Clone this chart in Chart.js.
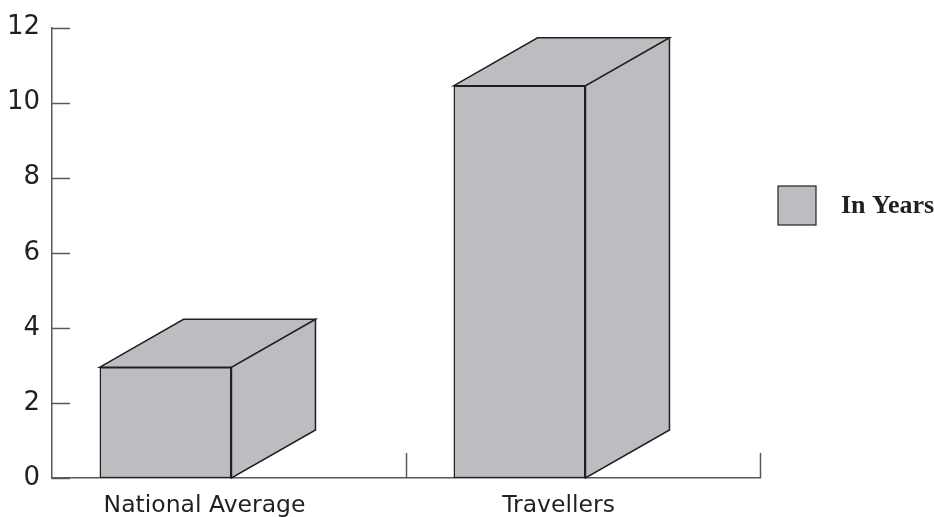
<!DOCTYPE html>
<html>
<head>
<meta charset="utf-8">
<script src="https://cdn.jsdelivr.net/npm/chart.js@4"></script>
<style>
  html, body { margin: 0; padding: 0; background: #fff; }
  #wrap { width: 934px; height: 517px; position: relative; }
</style>
</head>
<body>
<div id="wrap"><canvas id="chart"></canvas></div>
<script>
const categories = ["National Average", "Travellers"];
const yearsValues = [2.95, 10.45];
const seriesLabel = "In Years";
const yMin = 0;
const yMax = 12;
const yStep = 2;

const fill = "#bcbdc0";
const edge = "#231f20";
const axisColor = "#58595b";
const depthX = 84;
const depthY = 48;

// draws the top and side faces of each bar, plus inward ticks and the legend
const threeD = {
  id: "threeD",
  afterDatasetsDraw(chart) {
    const ctx = chart.ctx;
    const area = chart.chartArea;
    const yScale = chart.scales.y;
    const xScale = chart.scales.x;

    ctx.save();
    ctx.strokeStyle = axisColor;
    ctx.lineWidth = 1.5;
    yScale.ticks.forEach((t) => {
      const py = Math.round(yScale.getPixelForValue(t.value)) + 0.5;
      ctx.beginPath();
      ctx.moveTo(area.left, py);
      ctx.lineTo(area.left + 18, py);
      ctx.stroke();
    });
    // category boundaries
    const n = categories.length;
    for (let i = 1; i <= n; i++) {
      const px = i < n
        ? (xScale.getPixelForValue(i - 1) + xScale.getPixelForValue(i)) / 2
        : area.right;
      ctx.beginPath();
      ctx.moveTo(Math.round(px) + 0.5, area.bottom);
      ctx.lineTo(Math.round(px) + 0.5, area.bottom - 25);
      ctx.stroke();
    }

    ctx.fillStyle = fill;
    ctx.strokeStyle = edge;
    ctx.lineWidth = 1.5;
    ctx.lineJoin = "miter";
    const meta = chart.getDatasetMeta(0);
    meta.data.forEach((bar, i) => {
      const { x, y, base, width } = bar.getProps(["x", "y", "base", "width"], true);
      const l = x - width / 2;
      const r = x + width / 2;
      ctx.beginPath();
      ctx.moveTo(l, y);
      ctx.lineTo(l + depthX, y - depthY);
      ctx.lineTo(r + depthX, y - depthY);
      ctx.lineTo(r, y);
      ctx.closePath();
      ctx.fill();
      ctx.stroke();

      ctx.beginPath();
      ctx.moveTo(r, y);
      ctx.lineTo(r + depthX, y - depthY);
      ctx.lineTo(r + depthX, base - depthY);
      ctx.lineTo(r, base);
      ctx.closePath();
      ctx.fill();
      ctx.stroke();

      ctx.fillStyle = edge;
      ctx.font = "23.5px 'DejaVu Sans', sans-serif";
      ctx.textAlign = "center";
      ctx.textBaseline = "middle";
      ctx.fillText(categories[i], x + 39, area.bottom + 28);
      ctx.fillStyle = fill;
    });

    // legend
    const lx = area.right + 18;
    const ly = 186;
    ctx.fillStyle = fill;
    ctx.fillRect(lx, ly, 38, 39);
    ctx.strokeStyle = edge;
    ctx.lineWidth = 1.2;
    ctx.strokeRect(lx, ly, 38, 39);
    ctx.fillStyle = edge;
    ctx.font = "bold 26px 'Liberation Serif', serif";
    ctx.textAlign = "left";
    ctx.textBaseline = "middle";
    ctx.fillText(seriesLabel, lx + 63, ly + 20);
    ctx.restore();
  },
};

new Chart(document.getElementById("chart"), {
  type: "bar",
  data: {
    labels: categories,
    datasets: [
      {
        label: seriesLabel,
        data: yearsValues,
        backgroundColor: fill,
        borderColor: edge,
        borderWidth: 1.5,
        borderSkipped: false,
      },
      // empty slot that leaves room for the bar depth
      { label: "", data: [null, null] },
    ],
  },
  options: {
    responsive: true,
    maintainAspectRatio: false,
    animation: false,
    categoryPercentage: 0.7175,
    barPercentage: 1.039,
    layout: { padding: { top: 22, right: 174, left: 0, bottom: 0 } },
    plugins: { legend: { display: false }, tooltip: { enabled: false } },
    scales: {
      x: {
        grid: { display: false },
        border: { display: true, color: axisColor, width: 1.5 },
        ticks: { display: false },
        afterFit: (s) => { s.height = 39; },
      },
      y: {
        min: yMin,
        max: yMax,
        grid: { display: false, drawTicks: false },
        border: { display: true, color: axisColor, width: 1.5 },
        ticks: {
          stepSize: yStep,
          padding: 12,
          color: edge,
          font: { family: "'DejaVu Sans', sans-serif", size: 26 },
        },
        afterFit: (s) => { s.width = 52; },
      },
    },
  },
  plugins: [threeD],
});
</script>
</body>
</html>
